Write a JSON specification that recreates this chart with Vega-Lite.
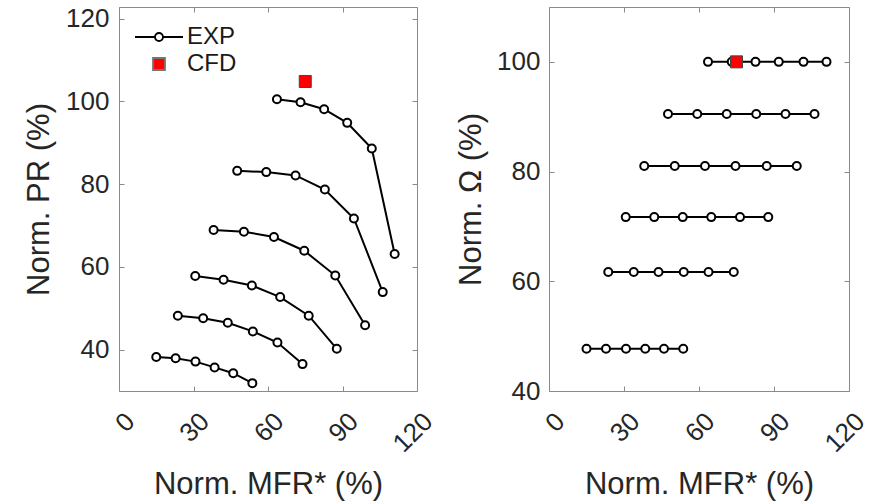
{
  "$schema": "https://vega.github.io/schema/vega-lite/v6.json",
  "padding": {"left": 23, "top": 5, "right": 5, "bottom": 5},
  "background": "white",
  "datasets": {
    "pts": [
      {"series": "EXP", "omega": 100, "mfr": 63.6, "pr": 100.5},
      {"series": "EXP", "omega": 100, "mfr": 73.1, "pr": 99.8},
      {"series": "EXP", "omega": 100, "mfr": 82.6, "pr": 98.1},
      {"series": "EXP", "omega": 100, "mfr": 91.9, "pr": 94.8},
      {"series": "EXP", "omega": 100, "mfr": 101.8, "pr": 88.6},
      {"series": "EXP", "omega": 100, "mfr": 111.0, "pr": 63.1},
      {"series": "EXP", "omega": 90.5, "mfr": 47.6, "pr": 83.2},
      {"series": "EXP", "omega": 90.5, "mfr": 59.3, "pr": 82.9},
      {"series": "EXP", "omega": 90.5, "mfr": 71.1, "pr": 82.1},
      {"series": "EXP", "omega": 90.5, "mfr": 82.9, "pr": 78.7},
      {"series": "EXP", "omega": 90.5, "mfr": 94.6, "pr": 71.7},
      {"series": "EXP", "omega": 90.5, "mfr": 106.2, "pr": 53.9},
      {"series": "EXP", "omega": 81, "mfr": 38.1, "pr": 68.9},
      {"series": "EXP", "omega": 81, "mfr": 50.3, "pr": 68.5},
      {"series": "EXP", "omega": 81, "mfr": 62.4, "pr": 67.2},
      {"series": "EXP", "omega": 81, "mfr": 74.6, "pr": 63.9},
      {"series": "EXP", "omega": 81, "mfr": 87.1, "pr": 57.9},
      {"series": "EXP", "omega": 81, "mfr": 99.1, "pr": 45.9},
      {"series": "EXP", "omega": 71.7, "mfr": 30.7, "pr": 57.8},
      {"series": "EXP", "omega": 71.7, "mfr": 42.1, "pr": 56.9},
      {"series": "EXP", "omega": 71.7, "mfr": 53.5, "pr": 55.5},
      {"series": "EXP", "omega": 71.7, "mfr": 64.9, "pr": 52.7},
      {"series": "EXP", "omega": 71.7, "mfr": 76.4, "pr": 48.2},
      {"series": "EXP", "omega": 71.7, "mfr": 87.7, "pr": 40.2},
      {"series": "EXP", "omega": 61.7, "mfr": 23.7, "pr": 48.2},
      {"series": "EXP", "omega": 61.7, "mfr": 33.9, "pr": 47.6},
      {"series": "EXP", "omega": 61.7, "mfr": 43.8, "pr": 46.5},
      {"series": "EXP", "omega": 61.7, "mfr": 53.9, "pr": 44.4},
      {"series": "EXP", "omega": 61.7, "mfr": 63.8, "pr": 41.7},
      {"series": "EXP", "omega": 61.7, "mfr": 73.9, "pr": 36.5},
      {"series": "EXP", "omega": 47.7, "mfr": 15.0, "pr": 38.2},
      {"series": "EXP", "omega": 47.7, "mfr": 22.8, "pr": 37.9},
      {"series": "EXP", "omega": 47.7, "mfr": 30.8, "pr": 37.1},
      {"series": "EXP", "omega": 47.7, "mfr": 38.5, "pr": 35.7},
      {"series": "EXP", "omega": 47.7, "mfr": 46.0, "pr": 34.3},
      {"series": "EXP", "omega": 47.7, "mfr": 53.7, "pr": 31.9},
      {"series": "CFD", "omega": 100, "mfr": 75.0, "pr": 104.8}
    ]
  },
  "config": {
    "font": "Liberation Sans",
    "view": {"stroke": "#8a8a8a", "strokeWidth": 1},
    "axis": {
      "domain": false,
      "grid": false,
      "tickColor": "#8a8a8a",
      "tickSize": -5,
      "tickWidth": 1,
      "labelColor": "#262626",
      "titleColor": "#262626",
      "labelFont": "Liberation Sans",
      "titleFont": "Liberation Sans",
      "labelFontSize": 26,
      "titleFontSize": 31,
      "titleFontWeight": "normal",
      "labelOverlap": false,
      "labelFlush": false
    }
  },
  "hconcat": [
    {
      "width": 298,
      "height": 384,
      "data": {"name": "pts"},
      "layer": [
        {
          "transform": [{"filter": "datum.series === 'EXP'"}],
          "mark": {"type": "line", "color": "black", "strokeWidth": 2},
          "encoding": {
            "x": {"field": "mfr", "type": "quantitative", "scale": {"domain": [0, 120], "nice": false},
                  "axis": {"orient": "top", "labels": false, "title": null, "values": [0, 30, 60, 90, 120]}},
            "y": {"field": "pr", "type": "quantitative", "scale": {"domain": [30, 122.8], "nice": false, "zero": false},
                  "axis": {"orient": "right", "labels": false, "title": null, "values": [40, 60, 80, 100, 120]}},
            "detail": {"field": "omega", "type": "nominal"}
          }
        },
        {
          "transform": [{"filter": "false"}],
          "mark": {"type": "point", "filled": true, "opacity": 1, "strokeWidth": 2},
          "encoding": {
            "x": {"field": "mfr", "type": "quantitative", "scale": {"domain": [0, 120], "nice": false}, "axis": null},
            "y": {"field": "pr", "type": "quantitative", "scale": {"domain": [30, 122.8], "nice": false, "zero": false}, "axis": null},
            "shape": {"field": "series", "type": "nominal",
                      "scale": {"domain": ["EXP", "CFD"], "range": ["M-4,0H-0.667M0.667,0H4M0.667,0A0.667,0.667 0 1,1 -0.667,0A0.667,0.667 0 1,1 0.667,0Z", "square"]},
                      "legend": {
                        "title": null,
                        "orient": "none",
                        "legendX": 28,
                        "legendY": 18,
                        "labelFontSize": 24,
                        "labelColor": "#1a1a1a",
                        "labelFont": "Liberation Sans",
                        "labelOffset": 16,
                        "rowPadding": 3,
                        "padding": 0,
                        "symbolSize": 144,
                        "symbolOpacity": 1,
                        "symbolStrokeWidth": 1.8
                      }},
            "fill": {"field": "series", "type": "nominal",
                     "scale": {"domain": ["EXP", "CFD"], "range": ["white", "#ff0000"]}},
            "stroke": {"field": "series", "type": "nominal",
                       "scale": {"domain": ["EXP", "CFD"], "range": ["black", "#777777"]}}
          }
        },
        {
          "mark": {"type": "point", "filled": true, "opacity": 1},
          "encoding": {
            "x": {"field": "mfr", "type": "quantitative", "scale": {"domain": [0, 120], "nice": false},
                  "axis": {"orient": "bottom", "title": "Norm. MFR* (%)", "values": [0, 30, 60, 90, 120],
                           "labelAngle": -45, "labelAlign": "right", "labelBaseline": "middle",
                           "labelOffset": 11, "labelPadding": 31, "titlePadding": 13}},
            "y": {"field": "pr", "type": "quantitative", "scale": {"domain": [30, 122.8], "nice": false, "zero": false},
                  "axis": {"orient": "left", "title": "Norm. PR (%)", "values": [40, 60, 80, 100, 120],
                           "labelPadding": 15, "titlePadding": 10}},
            "shape": {"condition": {"test": "datum.series === 'CFD'", "value": "square"}, "value": "circle"},
            "fill": {"condition": {"test": "datum.series === 'CFD'", "value": "#ff0000"}, "value": "white"},
            "stroke": {"condition": {"test": "datum.series === 'CFD'", "value": "#444444"}, "value": "black"},
            "size": {"condition": {"test": "datum.series === 'CFD'", "value": 144}, "value": 64},
            "strokeWidth": {"condition": {"test": "datum.series === 'CFD'", "value": 1}, "value": 2}
          }
        }
      ],
      "resolve": {"axis": {"x": "independent", "y": "independent"}}
    },
    {
      "width": 300,
      "height": 384,
      "data": {"name": "pts"},
      "layer": [
        {
          "transform": [{"filter": "datum.series === 'EXP'"}],
          "mark": {"type": "line", "color": "black", "strokeWidth": 2},
          "encoding": {
            "x": {"field": "mfr", "type": "quantitative", "scale": {"domain": [0, 120], "nice": false},
                  "axis": {"orient": "top", "labels": false, "title": null, "values": [0, 30, 60, 90, 120]}},
            "y": {"field": "omega", "type": "quantitative", "scale": {"domain": [40, 110], "nice": false, "zero": false},
                  "axis": {"orient": "right", "labels": false, "title": null, "values": [40, 60, 80, 100]}},
            "detail": {"field": "omega", "type": "nominal"}
          }
        },
        {
          "transform": [{"filter": "datum.series === 'EXP'"}],
          "mark": {"type": "point", "shape": "circle", "filled": false, "fill": "white", "stroke": "black", "strokeWidth": 2, "size": 64, "opacity": 1},
          "encoding": {
            "x": {"field": "mfr", "type": "quantitative", "scale": {"domain": [0, 120], "nice": false},
                  "axis": {"orient": "bottom", "title": "Norm. MFR* (%)", "values": [0, 30, 60, 90, 120],
                           "labelAngle": -45, "labelAlign": "right", "labelBaseline": "middle",
                           "labelOffset": 11, "labelPadding": 31, "titlePadding": 13}},
            "y": {"field": "omega", "type": "quantitative", "scale": {"domain": [40, 110], "nice": false, "zero": false},
                  "axis": {"orient": "left", "title": "Norm. Ω (%)", "values": [40, 60, 80, 100],
                           "labelPadding": 14, "titlePadding": 9}}
          }
        },
        {
          "transform": [{"filter": "datum.series === 'CFD'"}],
          "mark": {"type": "point", "shape": "square", "filled": true, "fill": "#ff0000", "stroke": "#444444", "strokeWidth": 1, "size": 144, "opacity": 1},
          "encoding": {
            "x": {"field": "mfr", "type": "quantitative", "scale": {"domain": [0, 120], "nice": false}, "axis": null},
            "y": {"field": "omega", "type": "quantitative", "scale": {"domain": [40, 110], "nice": false, "zero": false}, "axis": null}
          }
        }
      ],
      "resolve": {"axis": {"x": "independent", "y": "independent"}}
    }
  ],
  "spacing": 132,
  "bounds": "flush"
}
